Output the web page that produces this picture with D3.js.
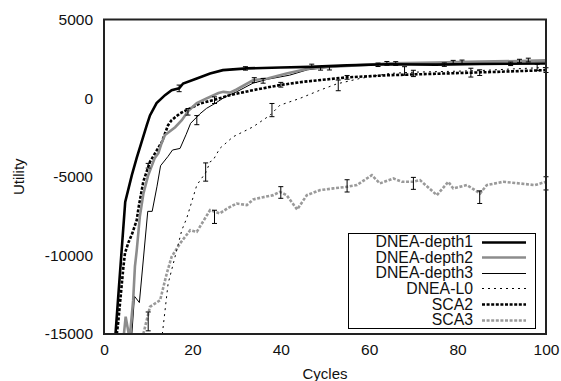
<!DOCTYPE html>
<html>
<head>
<meta charset="utf-8">
<script src="https://cdn.jsdelivr.net/npm/d3@7"></script>
<style>
  body { margin: 0; background: #fff; }
  svg text { font-family: "Liberation Sans", Arial, Helvetica, sans-serif; fill: #111; }
</style>
</head>
<body>
<div id="canvas"></div>
<script>
// curves: [cycle, utility]
var depth1 = [[2.6,-15000],[4.8,-6600],[6.3,-4900],[7.4,-3800],[8.5,-2800],[9.7,-1700],[10.4,-1100],[11.9,-320],[13.8,190],[15.3,500],[17,620],[17.9,930],[21,1250],[24,1570],[26.9,1780],[32.3,1890],[40,1950],[46.6,1990],[55,2080],[64,2150],[75,2130],[85,2170],[100,2200]];
var depth2 = [[4.4,-15300],[4.9,-13900],[5.8,-15300],[6.6,-12850],[7.0,-10700],[7.4,-9700],[8.1,-7550],[8.9,-6100],[10,-4900],[11.5,-3800],[12.3,-3500],[13.1,-2800],[13.8,-2350],[16.1,-1850],[17.6,-1400],[19.1,-800],[21,-320],[23.2,-20],[25.9,320],[27,400],[28.5,350],[30,550],[33.8,1150],[37,1250],[41.3,1570],[46.6,1890],[51,1990],[58,2100],[64.7,2210],[75,2260],[85,2320],[94,2360],[100,2400]];
var depth3 = [[6.3,-15000],[6.9,-12600],[8.0,-13000],[9.9,-7200],[10.9,-7200],[12.0,-5600],[12.8,-4300],[14.5,-3700],[15.5,-3300],[17.2,-3200],[18.6,-2300],[19.6,-1600],[21.7,-1000],[23.2,-650],[25.1,-340],[27.4,80],[30,400],[33.7,950],[37,1200],[42,1460],[46,1800],[51,1970],[58,2100],[65,2190],[75,2250],[85,2300],[100,2350]];
var dneaL0 = [[13.2,-15000],[14.5,-11800],[15.7,-10500],[17.6,-8400],[18.7,-7650],[21,-5530],[23.1,-4700],[24,-4050],[24.7,-3940],[26.2,-3200],[29.2,-2460],[33.7,-1830],[37.6,-1080],[39.8,-450],[44.3,-20],[48.9,510],[52.6,900],[57.9,1250],[64.7,1570],[70,1650],[78,1700],[85,1750],[92,1850],[100,1950]];
var sca2 = [[2.9,-15000],[3.2,-14300],[4.4,-10700],[4.75,-9860],[5.5,-9200],[6.4,-8600],[7.4,-7760],[7.8,-7000],[8.9,-5300],[10.4,-4050],[13.1,-2780],[14.5,-1720],[15.3,-1400],[17.2,-970],[18.8,-750],[21.7,-340],[24.7,-130],[28.5,190],[33.8,510],[39.8,830],[45.1,1040],[50.4,1190],[54.9,1320],[64.7,1460],[77.5,1570],[88.8,1670],[100,1780]];
var sca3 = [[8.9,-15000],[10.4,-13270],[12.7,-12850],[14.2,-11150],[15.3,-10090],[17.2,-9240],[19.5,-8400],[21,-8500],[24,-7120],[26.2,-7330],[28,-7000],[30,-6700],[32.3,-6800],[33.8,-6440],[36,-6300],[38.3,-6170],[39.8,-5960],[41.3,-6170],[43.7,-7080],[45.9,-6170],[48.9,-5850],[51.9,-5740],[54.9,-5640],[57.2,-5530],[60.6,-4900],[62.4,-5425],[65.5,-5110],[67.4,-5320],[70,-5320],[71.5,-5215],[75.3,-6170],[77.9,-5320],[79,-5740],[82.1,-5530],[85.1,-6060],[86.6,-5530],[90.3,-5320],[94.1,-5425],[97.5,-5530],[100,-5320]];

// error bars: [cycle, mean, half range]
var depth1Err = [[17,620,210],[32,1890,110],[47,2050,110],[62,2120,110],[77,2130,110],[92,2180,110]];
var depth2Err = [[19,-870,210],[34,1150,150],[49,1890,110],[64,2210,120],[79,2280,120],[94,2360,110]];
var depth3Err = [[21,-1400,290],[36,1100,150],[51,1900,110],[66,2200,120],[81,2300,120],[96,2420,120]];
var dneaL0Err = [[23,-4700,580],[38,-760,420],[53,810,340],[68,1730,270],[83,1620,280],[98,1950,200]];
var sca2Err = [[10,-4300,150],[25,-130,210],[40,850,150],[55,1320,120],[70,1570,200],[85,1620,180],[100,1780,150]];
var sca3Err = [[10,-14200,600],[25,-7550,420],[40,-6000,370],[55,-5580,390],[70,-5420,380],[85,-6300,400],[100,-5420,420]];

var seriesNames = ["DNEA-depth1", "DNEA-depth2", "DNEA-depth3", "DNEA-L0", "SCA2", "SCA3"];
var xTicks = [0, 20, 40, 60, 80, 100];
var yTicks = [5000, 0, -5000, -10000, -15000];

var width = 561,
    height = 381,
    plotLeft = 104, plotRight = 546, plotTop = 19.5, plotBottom = 334;

var styles = [
    { color: "#000", w: 2.6, dash: null },
    { color: "#8c8c8c", w: 2.6, dash: null },
    { color: "#000", w: 1, dash: null },
    { color: "#000", w: 1, dash: "2,4" },
    { color: "#000", w: 2.6, dash: "3,1.6" },
    { color: "#9a9a9a", w: 2.6, dash: "3,1.6" }
];
var curves = [depth1, depth2, depth3, dneaL0, sca2, sca3];
var errs = [depth1Err, depth2Err, depth3Err, dneaL0Err, sca2Err, sca3Err];

// plain hyphen for negatives, like the original
var plain = function(d) { return String(d); };

var svg = d3.select("#canvas")
    .append("svg")
    .attr("width", width)
    .attr("height", height);

var x = d3.scaleLinear().domain([0, 100]).range([plotLeft, plotRight]);
var y = d3.scaleLinear().domain([-15000, 5000]).range([plotBottom, plotTop]);

svg.append("clipPath").attr("id", "plot")
    .append("rect")
    .attr("x", plotLeft).attr("y", plotTop)
    .attr("width", plotRight - plotLeft).attr("height", plotBottom - plotTop);

// axes
svg.append("g")
    .attr("transform", "translate(" + plotLeft + ",0)")
    .call(d3.axisLeft(y).tickValues(yTicks).tickSize(0).tickPadding(11).tickFormat(plain))
    .call(function(g) { g.select(".domain").remove(); })
    .selectAll("text").style("font-size", "15.5px");

svg.append("g")
    .attr("transform", "translate(0," + plotBottom + ")")
    .call(d3.axisBottom(x).tickValues(xTicks).tickSize(0).tickPadding(10).tickFormat(plain))
    .call(function(g) { g.select(".domain").remove(); })
    .selectAll("text").style("font-size", "15.5px");

svg.append("text")
    .attr("x", (plotLeft + plotRight) / 2).attr("y", 379)
    .attr("text-anchor", "middle")
    .style("font-size", "15px")
    .text("Cycles");

svg.append("text")
    .attr("transform", "translate(24," + (plotTop + plotBottom) / 2 + ") rotate(-90)")
    .attr("text-anchor", "middle")
    .style("font-size", "15px")
    .text("Utility");

// curves
var line = d3.line()
    .x(function(d) { return x(d[0]); })
    .y(function(d) { return y(d[1]); });

var plot = svg.append("g").attr("clip-path", "url(#plot)");

// draw in reverse so the solid black lines sit on top
[5, 4, 3, 2, 1, 0].forEach(function(i) {
    plot.append("path")
        .datum(curves[i])
        .attr("d", line)
        .style("fill", "none")
        .style("stroke", styles[i].color)
        .style("stroke-width", styles[i].w)
        .style("stroke-dasharray", styles[i].dash);
});

// error bars
errs.forEach(function(list) {
    var g = svg.append("g").selectAll("g")
        .data(list.filter(function(d) { return d[1] - d[2] >= -15000; }))
        .enter().append("g")
        .style("stroke", "#000")
        .style("stroke-width", 1);
    g.append("line")
        .attr("x1", function(d) { return x(d[0]); })
        .attr("x2", function(d) { return x(d[0]); })
        .attr("y1", function(d) { return y(d[1] - d[2]); })
        .attr("y2", function(d) { return y(d[1] + d[2]); });
    [-1, 1].forEach(function(s) {
        g.append("line")
            .attr("x1", function(d) { return x(d[0]) - 2.5; })
            .attr("x2", function(d) { return x(d[0]) + 2.5; })
            .attr("y1", function(d) { return y(d[1] + s * d[2]); })
            .attr("y2", function(d) { return y(d[1] + s * d[2]); });
    });
});

// frame
svg.append("rect")
    .attr("x", plotLeft).attr("y", plotTop)
    .attr("width", plotRight - plotLeft).attr("height", plotBottom - plotTop)
    .style("fill", "none")
    .style("stroke", "#222")
    .style("stroke-width", 2);

// legend
var row = d3.scalePoint().domain(seriesNames).range([241.5, 319.5]);
svg.append("rect")
    .attr("x", 348.5).attr("y", 233.5)
    .attr("width", 187).attr("height", 95)
    .style("fill", "#fff")
    .style("stroke", "#000")
    .style("stroke-width", 1);

var items = svg.append("g").selectAll("g")
    .data(seriesNames)
    .enter().append("g");

items.append("text")
    .attr("x", 473)
    .attr("y", function(d) { return row(d); })
    .attr("dy", "0.36em")
    .attr("text-anchor", "end")
    .style("font-size", "15.8px")
    .text(function(d) { return d; });

items.append("line")
    .attr("x1", 482).attr("x2", 526)
    .attr("y1", function(d) { return Math.round(row(d)) + 0.5; })
    .attr("y2", function(d) { return Math.round(row(d)) + 0.5; })
    .style("stroke", function(d, i) { return styles[i].color; })
    .style("stroke-width", function(d, i) { return styles[i].w; })
    .style("stroke-dasharray", function(d, i) { return styles[i].dash; });
</script>
</body>
</html>
